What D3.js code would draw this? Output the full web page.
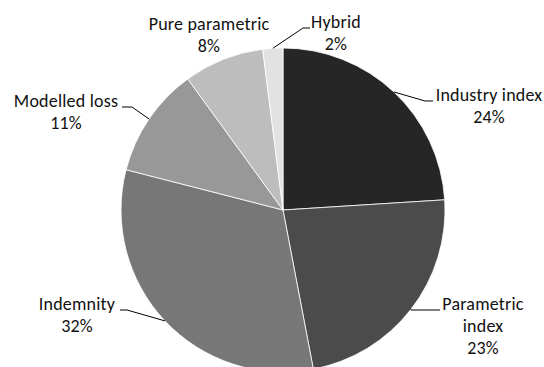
<!DOCTYPE html>
<html>
<head>
<meta charset="utf-8">
<script src="https://cdn.jsdelivr.net/npm/d3@7"></script>
<style>
  html, body { margin: 0; padding: 0; background: #fff; }
  svg { display: block; }
  text { font-family: Carlito, Calibri, Lato, sans-serif; font-size: 18px; letter-spacing: 0.2px; fill: #111; }
</style>
</head>
<body>
<svg id="chart" width="544" height="367"></svg>
<script>
// Share of structures by trigger type (per cent)
const categories = ["Industry index", "Parametric index", "Indemnity", "Modelled loss", "Pure parametric", "Hybrid"];
const shares = [24, 23, 32, 11, 8, 2];
const labelLines = [["Industry index"], ["Parametric", "index"], ["Indemnity"], ["Modelled loss"], ["Pure parametric"], ["Hybrid"]];
const fills = ["#262626", "#4b4b4b", "#777777", "#989898", "#bdbdbd", "#e2e2e2"];

// Label placement: text centre x, first baseline y, and the leader's bend point
const labelLayout = {
  "Industry index":   { x: 489, y: 101, bend: [425, 101], end: 433 },
  "Parametric index": { x: 483, y: 310, bend: [411, 310], end: 440 },
  "Indemnity":        { x: 77,  y: 310, bend: [127, 310], end: 120 },
  "Modelled loss":    { x: 66,  y: 107, bend: [132, 107], end: 122 },
  "Pure parametric":  { x: 209, y: 30,  bend: null,       end: null },
  "Hybrid":           { x: 336, y: 28,  bend: [303, 28],  end: 310 }
};

const svg = d3.select("#chart");
const cx = 283, cy = 210, radius = 162;
const lineGap = 22;

const data = categories.map((c, i) => ({ name: c, value: shares[i], lines: labelLines[i], fill: fills[i] }));

const pie = d3.pie().value(d => d.value).sort(null);
const arcs = pie(data);
const arc = d3.arc().innerRadius(0).outerRadius(radius);
const edge = d3.arc().innerRadius(radius).outerRadius(radius);

const g = svg.append("g").attr("transform", `translate(${cx},${cy})`);

g.selectAll("path.slice")
  .data(arcs)
  .join("path")
  .attr("class", "slice")
  .attr("d", arc)
  .attr("fill", d => d.data.fill)
  .attr("stroke", "#ffffff")
  .attr("stroke-width", 0.8);

// Leader lines from the slice edge to the label
const leaders = arcs.filter(d => labelLayout[d.data.name].bend);
svg.selectAll("polyline.leader")
  .data(leaders)
  .join("polyline")
  .attr("class", "leader")
  .attr("fill", "none")
  .attr("stroke", "#000")
  .attr("stroke-width", 1)
  .attr("points", d => {
    const p = edge.centroid(d);
    const L = labelLayout[d.data.name];
    return [[cx + p[0], cy + p[1]], L.bend, [L.end, L.bend[1]]].map(q => q.join(",")).join(" ");
  });

// Labels: category name and percentage
const labels = svg.selectAll("text.label")
  .data(arcs)
  .join("text")
  .attr("class", "label")
  .attr("text-anchor", "middle");

labels.each(function(d) {
  const L = labelLayout[d.data.name];
  const t = d3.select(this);
  const lines = d.data.lines.concat([d.data.value + "%"]);
  lines.forEach((s, i) => {
    t.append("tspan").attr("x", L.x).attr("y", L.y + i * lineGap).text(s);
  });
});
</script>
</body>
</html>
